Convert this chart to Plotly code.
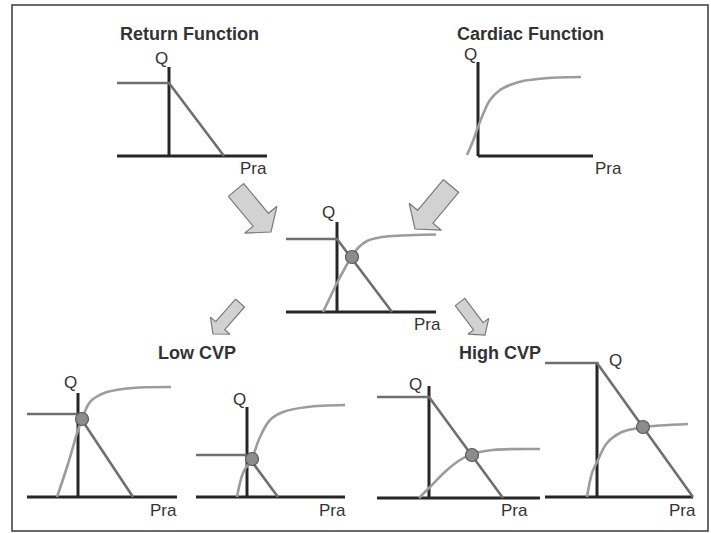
import math

import plotly.graph_objects as go

W, H = 711, 533
PX_PER_UNIT = 10

# ---- curve data (Pra, Q) in arbitrary units, origin at the axes crossing ----
return_top_pra = [-5.2, 0, 5.5]
return_top_q = [7.3, 7.3, 0]

cardiac_top_pra = [-1.1, -0.5, 0, 0.6, 1.2, 2.2, 3.2, 4.5, 6.0, 8.0, 10.3]
cardiac_top_q = [0.1, 1.5, 2.9, 4.4, 5.6, 6.6, 7.1, 7.5, 7.7, 7.85, 7.9]

return_mid_pra = [-5.1, 0, 5.5]
return_mid_q = [7.3, 7.3, 0]
cardiac_mid_pra = [-1.4, -0.7, 0, 0.8, 1.5, 2.2, 3.0, 4.5, 6.5, 9.9]
cardiac_mid_q = [0, 1.45, 2.9, 4.4, 5.6, 6.5, 7.1, 7.5, 7.65, 7.75]
dot_mid = (1.5, 5.5)

return_low1_pra = [-5.1, 0, 5.5]
return_low1_q = [8.3, 8.3, 0]
cardiac_low1_pra = [-2.1, -1.0, 0, 0.4, 0.8, 1.2, 1.8, 2.9, 5.5, 9.3]
cardiac_low1_q = [0, 3.3, 6.7, 7.8, 8.8, 9.5, 10.0, 10.5, 10.9, 11.0]
dot_low1 = (0.4, 7.8)

return_low2_pra = [-5.1, 0, 3.1]
return_low2_q = [4.2, 4.2, 0]
cardiac_low2_pra = [-1.0, -0.4, 0.5, 1.3, 2.3, 3.6, 6.0, 9.8]
cardiac_low2_q = [0, 2.4, 3.9, 6.0, 7.7, 8.5, 9.0, 9.2]
dot_low2 = (0.5, 3.8)

return_high1_pra = [-5.2, 0, 7.4]
return_high1_q = [10.1, 10.1, 0]
cardiac_high1_pra = [-1.0, 0.1, 1.8, 3.1, 4.3, 6.4, 11.1]
cardiac_high1_q = [0, 1.1, 2.8, 3.8, 4.4, 4.8, 4.9]
dot_high1 = (4.3, 4.3)

return_high2_pra = [-5.2, 0, 9.6]
return_high2_q = [13.4, 13.4, 0]
cardiac_high2_pra = [-1.0, -0.5, 0, 1.0, 2.3, 3.6, 4.6, 9.1]
cardiac_high2_q = [0, 2.4, 3.5, 5.4, 6.4, 6.8, 7.0, 7.3]
dot_high2 = (4.6, 7.0)

titles = ["Return Function", "Cardiac Function", "Low CVP", "High CVP"]

# ---- panel layout: origin in page px, axis extents, label offsets ----
PANELS = [
    dict(origin=(169, 156), pra=(-5.2, 9.8), qtop=8.9, q_off=(-8, -9), pra_off=(-14, 12),
         ret=(return_top_pra, return_top_q)),
    dict(origin=(478, 156), pra=(0, 11.5), qtop=9.4, q_off=(-8, -8), pra_off=(15, 12),
         card=(cardiac_top_pra, cardiac_top_q)),
    dict(origin=(337, 312), pra=(-5.1, 9.9), qtop=9.0, q_off=(-9, -9), pra_off=(-9, 12),
         ret=(return_mid_pra, return_mid_q), card=(cardiac_mid_pra, cardiac_mid_q), dot=dot_mid),
    dict(origin=(78, 497), pra=(-5.1, 9.9), qtop=10.4, q_off=(-8, -11), pra_off=(-14, 13),
         ret=(return_low1_pra, return_low1_q), card=(cardiac_low1_pra, cardiac_low1_q), dot=dot_low1),
    dict(origin=(247, 497), pra=(-5.1, 9.8), qtop=9.0, q_off=(-8, -8), pra_off=(-13, 13),
         ret=(return_low2_pra, return_low2_q), card=(cardiac_low2_pra, cardiac_low2_q), dot=dot_low2),
    dict(origin=(429, 498), pra=(-5.2, 11.1), qtop=11.2, q_off=(-14, -2), pra_off=(-26, 12),
         ret=(return_high1_pra, return_high1_q), card=(cardiac_high1_pra, cardiac_high1_q), dot=dot_high1),
    dict(origin=(597, 497), pra=(-5.2, 9.6), qtop=13.5, q_off=(18, -2), pra_off=(-11, 13),
         ret=(return_high2_pra, return_high2_q), card=(cardiac_high2_pra, cardiac_high2_q), dot=dot_high2),
]

TITLE_POS = [(189, 34), (530, 34), (197, 353), (500, 353)]

# block arrows: tail centre, tip, shaft half width, head half width, head length (page px)
ARROWS = [
    ((236, 190), (271, 232), 10, 21, 16),
    ((451, 186), (415, 229), 10, 21, 16),
    ((240, 303), (213, 334), 6, 13, 11),
    ((460, 302), (485, 335), 6, 13, 11),
]

AXIS_COLOR = "#262626"
RETURN_COLOR = "#6f6f6f"
CARDIAC_COLOR = "#9c9c9c"
FONT = "Liberation Sans, Arial, sans-serif"

fig = go.Figure()
layout = dict(
    width=W, height=H, autosize=False,
    margin=dict(l=0, r=0, t=0, b=0),
    paper_bgcolor="white", plot_bgcolor="rgba(0,0,0,0)",
    showlegend=False, hovermode=False,
    font=dict(family=FONT, color="#333333", size=17),
)
shapes, annotations = [], []

BOX = (-6.5, 12.5, -1.0, 14.5)  # panel box in units around origin

for i, p in enumerate(PANELS, start=1):
    ox, oy = p["origin"]
    x0px = max(0, ox + BOX[0] * PX_PER_UNIT)
    x1px = min(W, ox + BOX[1] * PX_PER_UNIT)
    ybot = min(H, oy - BOX[2] * PX_PER_UNIT)
    ytop = max(0, oy - BOX[3] * PX_PER_UNIT)
    xa, ya = f"xaxis{i}", f"yaxis{i}"
    xr, yr = f"x{i}", f"y{i}"
    layout[xa] = dict(domain=[x0px / W, x1px / W],
                      range=[(x0px - ox) / PX_PER_UNIT, (x1px - ox) / PX_PER_UNIT],
                      visible=False, anchor=yr)
    layout[ya] = dict(domain=[1 - ybot / H, 1 - ytop / H],
                      range=[(oy - ybot) / PX_PER_UNIT, (oy - ytop) / PX_PER_UNIT],
                      visible=False, anchor=xr)

    # axes
    shapes.append(dict(type="line", xref=xr, yref=yr, x0=p["pra"][0], x1=p["pra"][1], y0=0, y1=0,
                       line=dict(color=AXIS_COLOR, width=3), layer="below"))
    shapes.append(dict(type="line", xref=xr, yref=yr, x0=0, x1=0, y0=0, y1=p["qtop"],
                       line=dict(color=AXIS_COLOR, width=3), layer="below"))

    if "card" in p:
        fig.add_trace(go.Scatter(x=p["card"][0], y=p["card"][1], mode="lines", xaxis=xr, yaxis=yr,
                                 line=dict(color=CARDIAC_COLOR, width=2.6, shape="spline", smoothing=1.0)))
    if "ret" in p:
        fig.add_trace(go.Scatter(x=p["ret"][0], y=p["ret"][1], mode="lines", xaxis=xr, yaxis=yr,
                                 line=dict(color=RETURN_COLOR, width=2.6)))
    if "dot" in p:
        fig.add_trace(go.Scatter(x=[p["dot"][0]], y=[p["dot"][1]], mode="markers", xaxis=xr, yaxis=yr,
                                 marker=dict(size=13, color="#8c8c8c", line=dict(color="#5a5a5a", width=1.2))))

    annotations.append(dict(text="Q", xref=xr, yref=yr, x=0, y=p["qtop"], showarrow=False,
                            xshift=p["q_off"][0], yshift=-p["q_off"][1], font=dict(size=17)))
    annotations.append(dict(text="Pra", xref=xr, yref=yr, x=p["pra"][1], y=0, showarrow=False,
                            xshift=p["pra_off"][0], yshift=-p["pra_off"][1], font=dict(size=17)))

# overlay axis in page pixel space for arrows, titles and frame
ov = len(PANELS) + 1
layout[f"xaxis{ov}"] = dict(domain=[0, 1], range=[0, W], visible=False, anchor=f"y{ov}")
layout[f"yaxis{ov}"] = dict(domain=[0, 1], range=[H, 0], visible=False, anchor=f"x{ov}")


def block_arrow(tail, tip, w, hw, hl):
    dx, dy = tip[0] - tail[0], tip[1] - tail[1]
    n = math.hypot(dx, dy)
    ux, uy = dx / n, dy / n
    nx, ny = -uy, ux
    bx, by = tip[0] - ux * hl, tip[1] - uy * hl
    pts = [
        (tail[0] + nx * w, tail[1] + ny * w),
        (bx + nx * w, by + ny * w),
        (bx + nx * hw, by + ny * hw),
        tip,
        (bx - nx * hw, by - ny * hw),
        (bx - nx * w, by - ny * w),
        (tail[0] - nx * w, tail[1] - ny * w),
        (tail[0] + nx * w, tail[1] + ny * w),
    ]
    return [q[0] for q in pts], [q[1] for q in pts]


for tail, tip, w, hw, hl in ARROWS:
    ax, ay = block_arrow(tail, tip, w, hw, hl)
    fig.add_trace(go.Scatter(x=ax, y=ay, mode="lines", fill="toself", fillcolor="#d2d2d2",
                             line=dict(color="#7a7a7a", width=1.2),
                             xaxis=f"x{ov}", yaxis=f"y{ov}"))

for text, (tx, ty) in zip(titles, TITLE_POS):
    annotations.append(dict(text=f"<b>{text}</b>", xref=f"x{ov}", yref=f"y{ov}", x=tx, y=ty,
                            showarrow=False, font=dict(size=18, color="#333333")))

shapes.append(dict(type="rect", xref=f"x{ov}", yref=f"y{ov}", x0=12, x1=708, y0=5, y1=531,
                   line=dict(color="#3a3a3a", width=1.5), fillcolor="rgba(0,0,0,0)"))

layout["shapes"] = shapes
layout["annotations"] = annotations
fig.update_layout(**layout)
# drop the default 8px body margin so the figure sits at the page corner
fig.write_html("out.html", config={"displayModeBar": False},
               post_script="document.body.style.margin='0';")
